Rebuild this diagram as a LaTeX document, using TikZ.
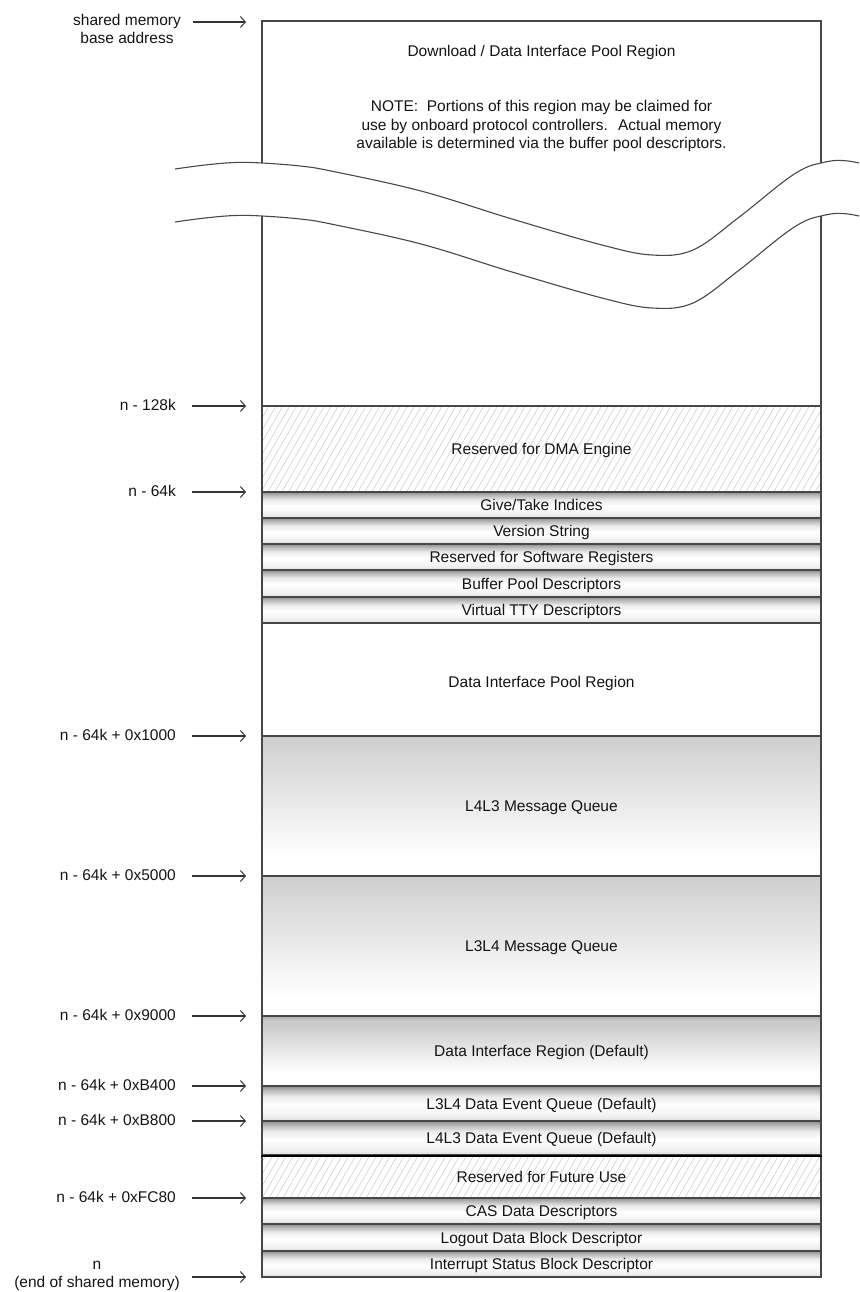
\documentclass[tikz,border=0pt]{standalone}
\usepackage{fontspec}
\setmainfont{Liberation Sans}
\usetikzlibrary{arrows.meta,patterns.meta}
\pgfdeclareverticalshading{rowshade}{100bp}{color(0bp)=(black!14); color(25bp)=(black!14); color(32bp)=(black!6); color(48bp)=(white); color(60bp)=(black!8); color(70bp)=(black!30); color(75bp)=(black!45); color(100bp)=(black!45)}
\pgfdeclareverticalshading{queueshade}{100bp}{color(0bp)=(white); color(25bp)=(white); color(32bp)=(white); color(75bp)=(black!19); color(100bp)=(black!19)}
\pgfdeclareverticalshading{dirshade}{100bp}{color(0bp)=(white); color(25bp)=(white); color(35bp)=(white); color(72bp)=(black!22); color(75bp)=(black!32); color(100bp)=(black!32)}
\tikzset{
  txt/.style={font=\fontsize{15.5}{18.5}\selectfont, text=black!92, inner sep=0pt},
  lab/.style={txt, anchor=east, text height=11pt, text depth=0pt},
  region/.style={draw=black!72, line width=1.4pt, minimum width=559pt, minimum height=#1,
    inner sep=0pt, text height=11pt, text depth=0pt,
    font=\fontsize{15.5}{18.5}\selectfont, text=black!92},
  hatch/.style={pattern={Lines[angle=60,distance=6pt,line width=0.5pt]}, pattern color=black!22},
  rowfill/.style={shading=rowshade},
  queuefill/.style={shading=queueshade},
  dirfill/.style={shading=dirshade},
  arr/.style={-{Straight Barb[length=5pt,width=11pt,line width=1pt]}, line width=1.1pt, draw=black!80},
  boxline/.style={draw=black!72, line width=1.3pt},
  wave/.style={draw=black!72, line width=1.1pt},
}
\begin{document}
\begin{tikzpicture}[x=1pt,y=-1pt]
\useasboundingbox (0,0) rectangle (859,1292);

% top (broken) region
\draw[boxline] (262,163) -- (262,21) -- (821,21) -- (821,163);
\draw[boxline] (262,216) -- (262,406);
\draw[boxline] (821,216) -- (821,406);
\draw[wave] plot[smooth, tension=0.6] coordinates {(175,169) (205,165) (235,162.5) (262,163) (300,166) (331,171) (421,191) (512,219) (602,245) (652,255) (693,250) (738,218) (783,182) (805,168) (821,163) (835,160.5) (848,161) (859,163)};
\draw[wave] plot[smooth, tension=0.6] coordinates {(175,222) (205,218) (235,215.5) (262,216) (300,219) (331,224) (421,244) (512,272) (602,298) (652,308) (693,303) (738,271) (783,235) (805,221) (821,216) (835,213.5) (848,214) (859,216)};

\node[txt] (title) at (541.5,52) {Download / Data Interface Pool Region};
\node[txt, align=center] (note) at (541.5,126) {NOTE:~ Portions of this region may be claimed for\\use by onboard protocol controllers.~ Actual memory\\available is determined via the buffer pool descriptors.};

% regions
\node[region=86pt, hatch] (dma) at (541.5,449) {Reserved for DMA Engine};
\node[region=26pt, rowfill] (give) at (541.5,505) {Give/Take Indices};
\node[region=26pt, rowfill] (ver) at (541.5,531) {Version String};
\node[region=26pt, rowfill] (swreg) at (541.5,557) {Reserved for Software Registers};
\node[region=27pt, rowfill] (bufpool) at (541.5,583.5) {Buffer Pool Descriptors};
\node[region=26pt, rowfill] (tty) at (541.5,610) {Virtual TTY Descriptors};
\node[region=113pt] (dipool) at (541.5,679.5) {};
\node[txt] (dipooltext) at (541.5,683) {Data Interface Pool Region};
\node[region=140pt, queuefill] (l4l3) at (541.5,806) {L4L3 Message Queue};
\node[region=140pt, queuefill] (l3l4) at (541.5,946) {L3L4 Message Queue};
\node[region=70pt, dirfill] (dir) at (541.5,1051) {Data Interface Region (Default)};
\node[region=35pt, rowfill] (l3l4ev) at (541.5,1103.5) {L3L4 Data Event Queue (Default)};
\node[region=34pt, rowfill] (l4l3ev) at (541.5,1138) {L4L3 Data Event Queue (Default)};
\node[region=43pt, hatch] (future) at (541.5,1176.5) {Reserved for Future Use};
\node[region=26pt, rowfill] (cas) at (541.5,1211) {CAS Data Descriptors};
\node[region=27pt, rowfill] (logout) at (541.5,1237.5) {Logout Data Block Descriptor};
\node[region=26pt, rowfill] (intr) at (541.5,1264) {Interrupt Status Block Descriptor};
\draw[draw=black, line width=2pt] (l4l3ev.south west) -- (l4l3ev.south east);

% address labels
\node[txt, align=center] (lbase) at (127,29) {shared memory\\base address};
\node[lab] (l128) at (176,405) {n - 128k};
\node[lab] (l64) at (176,491) {n - 64k};
\node[lab] (l1000) at (176,735) {n - 64k + 0x1000};
\node[lab] (l5000) at (176,875) {n - 64k + 0x5000};
\node[lab] (l9000) at (176,1015) {n - 64k + 0x9000};
\node[lab] (lB400) at (176,1085) {n - 64k + 0xB400};
\node[lab] (lB800) at (176,1120) {n - 64k + 0xB800};
\node[lab] (lFC80) at (176,1197) {n - 64k + 0xFC80};
\node[txt, align=center] (lend) at (97,1276) {n\\(end of shared memory)};

\coordinate (sbase) at (193,22);   \coordinate (ebase) at (246,22);
\coordinate (s128) at (192,406);   \coordinate (e128) at (246,406);
\coordinate (s64) at (192,492);    \coordinate (e64) at (246,492);
\coordinate (s1000) at (192,736);  \coordinate (e1000) at (246,736);
\coordinate (s5000) at (192,876);  \coordinate (e5000) at (246,876);
\coordinate (s9000) at (192,1016); \coordinate (e9000) at (246,1016);
\coordinate (sB400) at (192,1086); \coordinate (eB400) at (246,1086);
\coordinate (sB800) at (192,1121); \coordinate (eB800) at (246,1121);
\coordinate (sFC80) at (192,1198); \coordinate (eFC80) at (246,1198);
\coordinate (send) at (192,1277);  \coordinate (eend) at (246,1277);

\draw[arr] (sbase) -- (ebase);
\draw[arr] (s128) -- (e128);
\draw[arr] (s64) -- (e64);
\draw[arr] (s1000) -- (e1000);
\draw[arr] (s5000) -- (e5000);
\draw[arr] (s9000) -- (e9000);
\draw[arr] (sB400) -- (eB400);
\draw[arr] (sB800) -- (eB800);
\draw[arr] (sFC80) -- (eFC80);
\draw[arr] (send) -- (eend);
\end{tikzpicture}
\end{document}
